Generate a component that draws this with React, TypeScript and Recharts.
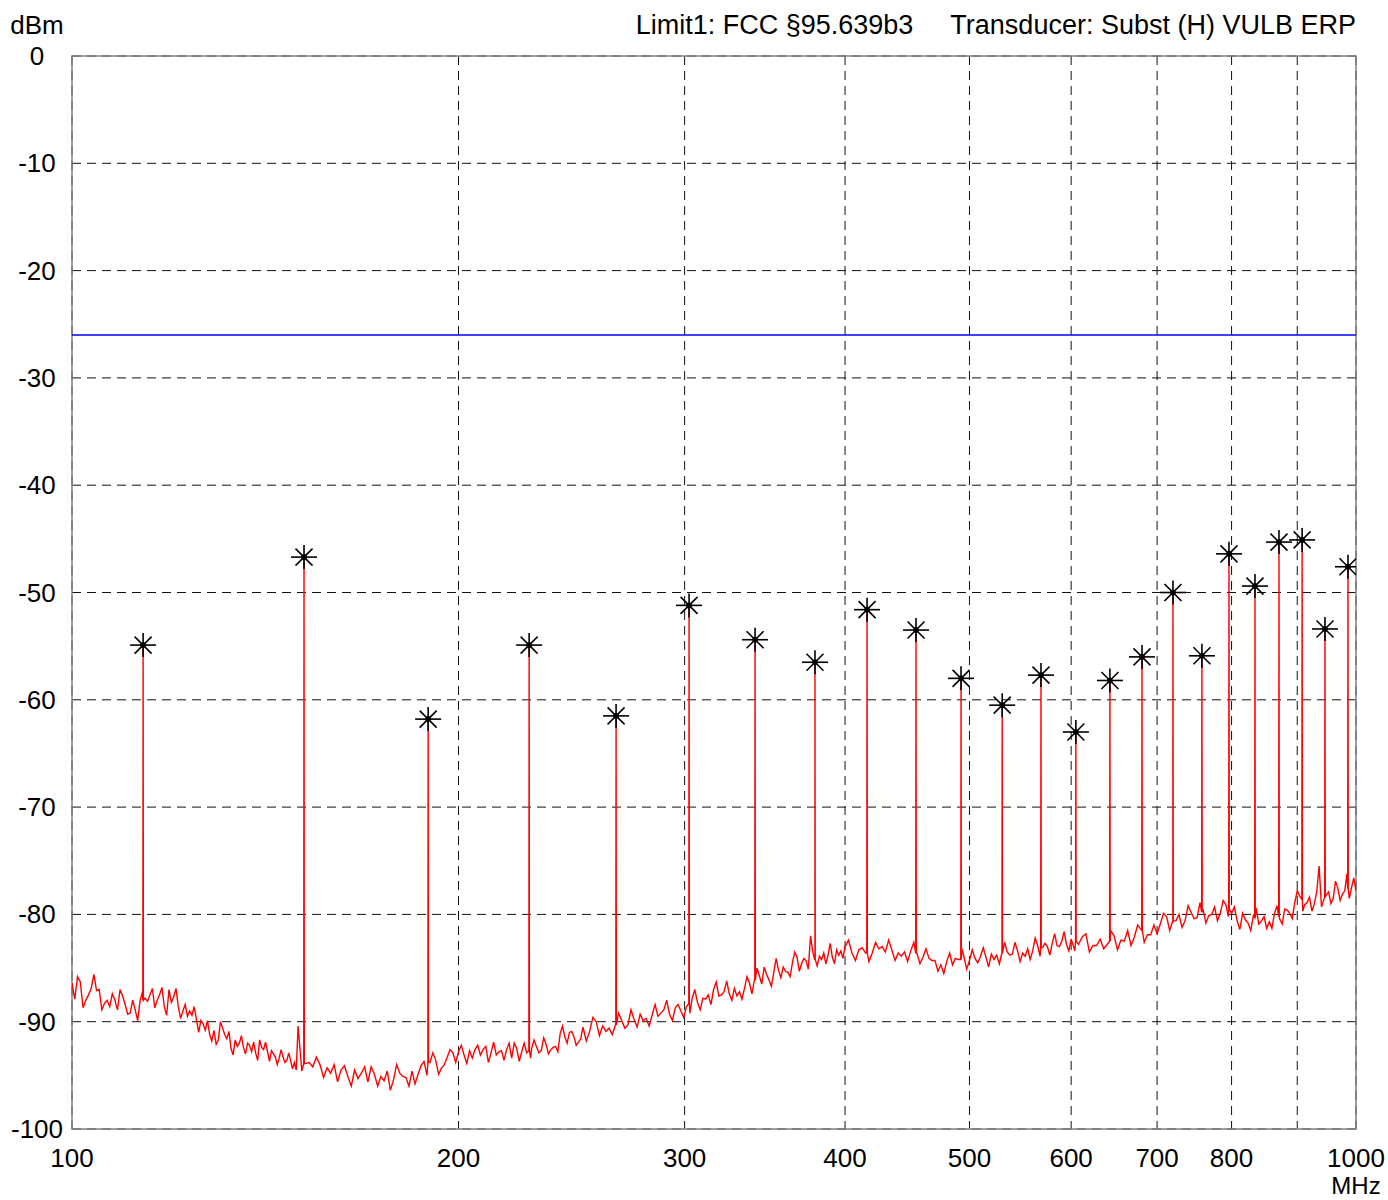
import React from "react";
import {
  ComposedChart,
  Line,
  Scatter,
  XAxis,
  YAxis,
  CartesianGrid,
  ReferenceLine,
  ReferenceArea,
} from "recharts";

// ---------- data ----------
// Noise-floor sweep points (MHz) and levels (dBm)
const FLOOR_F_1 = [
  100, 101, 102, 103, 104, 105, 106, 107, 108, 109, 110, 111, 112, 113, 114, 115, 116, 117, 118, 119,
  120, 121, 122, 123, 124, 125, 126, 127, 128, 129, 130, 131, 132, 133, 134, 135, 136, 137, 138, 139,
  140, 141, 142, 143, 144, 145, 146, 147, 148, 149, 150,
];
const FLOOR_DB_1 = [
  -86.4, -85.8, -88.7, -87.5, -85.6, -87.0, -88.3, -88.6, -88.0, -87.0, -88.4, -89.2, -88.9, -88.0, -87.8, -87.5, -88.7, -87.5, -88.6, -87.0,
  -87.7, -88.6, -89.0, -89.5, -89.4, -89.8, -89.9, -90.8, -91.2, -90.8, -91.7, -90.6, -91.6, -92.5, -91.7, -92.0, -92.4, -92.0, -92.8, -92.9,
  -91.7, -92.6, -92.8, -92.7, -93.3, -93.4, -93.3, -93.6, -93.6, -93.8, -90.4,
];
const FLOOR_F_1B = [
  100.5, 101.5, 102.5, 103.5, 104.5, 105.5, 106.5, 107.5, 108.5, 109.5, 110.5, 111.5, 112.5, 113.5, 114.5, 115.5, 116.5, 117.5, 118.5, 119.5,
  120.5, 121.5, 122.5, 123.5, 124.5, 125.5, 126.5, 127.5, 128.5, 129.5, 130.5, 131.5, 132.5, 133.5, 134.5, 135.5, 136.5, 137.5, 138.5, 139.5,
  140.5, 141.5, 142.5, 143.5, 144.5, 145.5, 146.5, 147.5, 148.5, 149.5,
];
const FLOOR_DB_1B = [
  -87.9, -86.3, -88.0, -86.9, -87.1, -88.9, -88.0, -87.4, -88.9, -87.6, -89.3, -88.0, -89.9, -87.2, -88.1, -86.9, -88.0, -86.8, -89.4, -88.2,
  -86.9, -89.7, -88.4, -89.0, -88.6, -91.0, -90.2, -89.9, -91.8, -92.1, -90.0, -91.2, -90.9, -93.1, -92.3, -91.3, -93.0, -92.2, -91.9, -93.6,
  -92.4, -91.9, -93.7, -93.0, -94.0, -92.6, -93.8, -92.9, -94.4, -94.5,
];
const FLOOR_F_2 = [
  152, 154, 156, 158, 160, 162, 164, 166, 168, 170, 172, 174, 176, 178, 180, 182, 184, 186, 188, 190,
  192, 194, 196, 198, 200, 202, 204, 206, 208, 210, 212, 214, 216, 218, 220, 222, 224, 226, 228, 230,
  232, 234, 236, 238, 240, 242, 244, 246, 248, 250,
];
const FLOOR_DB_2 = [
  -93.9, -94.2, -94.0, -94.3, -94.0, -94.5, -95.1, -94.5, -94.8, -95.6, -94.9, -95.1, -94.6, -95.4, -94.8, -95.2, -94.6, -94.9, -93.7, -93.8,
  -93.6, -94.3, -93.3, -92.9, -92.8, -93.1, -92.7, -92.6, -93.1, -92.3, -92.9, -93.1, -92.7, -92.6, -93.4, -92.5, -92.8, -92.9, -92.5, -92.3,
  -92.7, -92.1, -92.6, -92.3, -91.1, -91.4, -91.0, -91.4, -91.9, -90.5,
];
const FLOOR_F_2B = [
  151, 153, 155, 157, 159, 161, 163, 165, 167, 169, 171, 173, 175, 177, 179, 181, 183, 185, 187, 189,
  191, 193, 195, 197, 199, 201, 203, 205, 207, 209, 211, 213, 215, 217, 219, 221, 223, 225, 227.6, 229,
  231, 233, 235, 237, 239, 241, 243, 245, 247, 249,
];
const FLOOR_DB_2B = [
  -94.6, -93.8, -93.3, -95.2, -94.8, -95.6, -94.1, -96.0, -95.3, -94.2, -94.2, -96.0, -95.5, -96.4, -94.0, -95.1, -96.0, -95.8, -94.1, -95.0,
  -92.9, -94.9, -94.0, -92.6, -93.8, -92.2, -93.9, -93.4, -92.2, -92.6, -93.8, -91.9, -92.8, -93.6, -92.0, -92.0, -93.7, -92.0, -93.4, -91.7,
  -92.9, -91.5, -93.0, -92.4, -92.8, -90.4, -92.0, -90.9, -92.2, -91.6,
];
const FLOOR_F_3 = [
  253, 256, 259, 262, 265, 268, 271, 274, 277, 280, 283, 286, 289, 292, 295, 298, 301, 304, 307, 310,
  313, 316, 319, 322, 325, 328, 331, 334, 337, 340, 343, 346, 349, 352, 355, 358, 361, 364, 367, 370,
  373, 376, 379, 382, 385, 388, 391, 394, 397, 400,
];
const FLOOR_DB_3 = [
  -90.9, -90.0, -90.4, -90.6, -90.3, -89.9, -90.3, -89.8, -89.3, -89.7, -89.4, -89.5, -88.9, -89.3, -88.7, -89.0, -88.6, -87.9, -88.2, -87.8,
  -87.5, -87.0, -87.6, -87.2, -87.4, -86.9, -87.2, -86.9, -86.4, -86.1, -85.7, -84.9, -86.1, -85.4, -85.2, -84.9, -85.4, -84.5, -84.0, -84.6,
  -84.3, -82.0, -84.2, -83.9, -83.6, -83.8, -84.0, -83.3, -83.4, -83.0,
];
const FLOOR_F_3B = [
  251.5, 254.5, 257.5, 260.5, 263.5, 266.5, 269.5, 272.5, 275.5, 278.5, 281.5, 284.5, 287.5, 290.5, 293.5, 296.5, 299.5, 302.9, 305.5, 308.5,
  311.5, 314.5, 317.5, 320.5, 323.5, 326.5, 329.5, 332.5, 335.5, 338.5, 341.5, 344.5, 347.5, 350.5, 353.5, 356.5, 359.5, 362.5, 365.5, 368.5,
  371.5, 374.5, 377.5, 380.5, 383.5, 386.5, 389.5, 392.5, 395.5, 398.5,
];
const FLOOR_DB_3B = [
  -91.8, -89.6, -91.3, -90.9, -91.2, -89.2, -90.6, -88.9, -90.5, -89.9, -90.4, -88.4, -89.2, -88.0, -89.9, -88.4, -89.6, -89.2, -87.0, -88.9,
  -87.9, -88.4, -86.3, -87.5, -86.2, -88.0, -87.6, -87.9, -85.8, -87.4, -85.0, -86.5, -85.6, -86.7, -84.1, -85.9, -85.3, -85.8, -83.5, -85.3,
  -84.1, -85.1, -83.5, -84.8, -84.2, -84.6, -82.7, -84.6, -83.8, -84.1,
];
const FLOOR_F_4 = [
  405, 410, 415, 420, 425, 430, 435, 440, 445, 450, 455, 460, 465, 470, 475, 480, 485, 490, 495, 500,
  505, 510, 515, 520, 525, 530, 535, 540, 545, 550, 555, 560, 565, 570, 575, 580, 585, 590, 595, 600,
];
const FLOOR_DB_4 = [
  -83.6, -83.3, -83.6, -83.6, -83.2, -83.5, -83.3, -83.6, -83.5, -83.4, -83.6, -84.0, -84.1, -84.3, -84.7, -84.4, -84.7, -84.2, -83.9, -84.3,
  -84.1, -83.9, -84.0, -83.7, -83.8, -83.6, -83.5, -83.7, -83.4, -83.6, -83.2, -83.4, -82.9, -83.1, -83.0, -82.7, -82.9, -82.5, -82.8, -82.3,
];
const FLOOR_F_4B = [
  402.5, 407.5, 412.5, 417.5, 422.5, 427.5, 432.5, 437.5, 442.5, 447.5, 452.5, 457.5, 462.5, 467.5, 472.5, 477.5, 482.5, 487.5, 493.2, 497.5,
  502.5, 507.5, 512.5, 517.5, 522.5, 527.5, 532.5, 537.5, 542.5, 547.5, 552.5, 557.5, 562.5, 567.5, 572.5, 577.5, 582.5, 587.5, 592.5, 597.5,
];
const FLOOR_DB_4B = [
  -82.4, -84.3, -83.1, -84.4, -82.6, -83.0, -82.4, -84.3, -83.9, -84.4, -82.6, -84.6, -83.2, -84.3, -85.3, -85.5, -83.6, -84.1, -83.2, -85.1,
  -83.3, -84.5, -83.1, -84.9, -84.2, -84.6, -82.6, -83.8, -82.6, -84.4, -83.9, -84.2, -82.2, -83.9, -82.7, -83.8, -81.8, -83.0, -81.6, -83.4,
];
const FLOOR_F_5 = [
  608, 616, 624, 632, 640, 648, 656, 664, 672, 680, 688, 696, 704, 712, 720, 728, 736, 744, 752, 760,
  768, 776, 784, 792, 800, 808, 816, 824, 832, 840, 848, 856, 864, 872, 880, 888, 896, 904, 912, 920,
  928, 936, 944, 952, 960, 968, 976, 984, 992, 1000,
];
const FLOOR_DB_5 = [
  -82.8, -81.8, -82.9, -82.3, -82.8, -82.0, -82.4, -81.5, -82.1, -81.4, -81.9, -81.0, -80.9, -80.2, -80.8, -80.0, -80.6, -79.8, -80.3, -79.5,
  -80.1, -79.3, -79.9, -79.1, -79.9, -80.6, -79.9, -80.8, -80.1, -80.9, -80.2, -80.7, -79.9, -80.4, -79.5, -79.9, -78.9, -78.3, -79.1, -78.4,
  -79.0, -75.5, -78.6, -77.9, -78.5, -77.6, -78.1, -76.2, -77.5, -77.8,
];
const FLOOR_F_5B = [
  604, 612, 620, 628, 636, 644, 652, 660, 668, 676, 684, 692, 700, 708, 716, 724, 732, 740, 748, 756,
  764, 772, 780, 788, 795.5, 804, 812, 820, 828, 836, 844, 852, 860, 868, 876, 884, 892, 900, 909, 916,
  924, 932, 940, 948, 956, 964, 972, 980, 988, 996,
];
const FLOOR_DB_5B = [
  -83.4, -82.1, -83.5, -82.9, -83.2, -81.5, -83.3, -82.5, -82.9, -81.0, -82.6, -81.9, -81.8, -79.9, -81.5, -80.6, -81.2, -79.2, -80.4, -78.9,
  -80.8, -80.0, -80.6, -78.7, -80.2, -79.3, -81.4, -80.5, -81.5, -79.4, -80.6, -81.3, -81.3, -79.2, -80.9, -79.6, -80.4, -77.8, -79.7, -78.9,
  -79.7, -77.9, -79.3, -78.2, -79.0, -76.9, -78.7, -77.8, -78.5, -76.6,
];

// Marked emission peaks
const PEAK_F = [
  113.6, 151.6, 189.4, 227.0, 265.3, 302.4, 340.4, 379.0, 416.1, 454.3, 492.5, 530.2,
  568.4, 605.1, 643.2, 681.3, 720.2, 758.6, 796.3, 834.3, 871.0, 907.9, 945.9, 985.7,
];
const PEAK_DB = [
  -54.9, -46.7, -61.8, -54.9, -61.5, -51.2, -54.4, -56.5, -51.6, -53.5, -58.0, -60.5,
  -57.7, -63.0, -58.2, -56.0, -50.0, -55.9, -46.4, -49.4, -45.3, -45.1, -53.4, -47.6,
];
const PEAK_BASE = [
  -88.0, -93.9, -93.8, -92.7, -90.3, -88.3, -86.1, -84.2, -83.6, -83.6, -84.2, -83.6,
  -83.1, -82.5, -82.5, -81.5, -80.6, -79.8, -79.5, -80.3, -80.2, -78.6, -78.4, -77.6,
];

const LIMIT_DB = -26;
const X_TICKS = [100, 200, 300, 400, 500, 600, 700, 800, 900, 1000];
const X_TICK_LABELS = ["100", "200", "300", "400", "500", "600", "700", "800", "", "1000"];
const Y_TICKS = [0, -10, -20, -30, -40, -50, -60, -70, -80, -90, -100];
const Y_UNIT = "dBm";
const X_UNIT = "MHz";
const HEADER_LIMIT = "Limit1: FCC §95.639b3";
const HEADER_TRANSDUCER = "Transducer: Subst (H) VULB ERP";

// ---------- derived tables ----------
const FLOOR_F = [
  ...FLOOR_F_1, ...FLOOR_F_1B, ...FLOOR_F_2, ...FLOOR_F_2B, ...FLOOR_F_3, ...FLOOR_F_3B,
  ...FLOOR_F_4, ...FLOOR_F_4B, ...FLOOR_F_5, ...FLOOR_F_5B,
];
const FLOOR_DB = [
  ...FLOOR_DB_1, ...FLOOR_DB_1B, ...FLOOR_DB_2, ...FLOOR_DB_2B, ...FLOOR_DB_3, ...FLOOR_DB_3B,
  ...FLOOR_DB_4, ...FLOOR_DB_4B, ...FLOOR_DB_5, ...FLOOR_DB_5B,
];
const SPIKE_REL_HALF_WIDTH = 0.0005;

const traceData = [
  ...FLOOR_F.map((f, i) => ({ f, db: FLOOR_DB[i] })),
  ...PEAK_F.flatMap((f, i) => [
    { f: f * (1 - SPIKE_REL_HALF_WIDTH), db: PEAK_BASE[i] },
    { f, db: PEAK_DB[i] },
    { f: f * (1 + SPIKE_REL_HALF_WIDTH), db: PEAK_BASE[i] },
  ]),
].sort((a, b) => a.f - b.f);

const peakData = PEAK_F.map((f, i) => ({ f, db: PEAK_DB[i] }));

const FONT = "'Liberation Sans', Arial, Helvetica, sans-serif";
const FONT_SIZE = 26;
const UNIT_FONT_SIZE = 24;
const HEADER_FONT_SIZE = 27;

const Star = (props: any) => {
  const { cx, cy } = props;
  if (cx == null || cy == null) return null;
  const rh = 13;
  const rv = 12;
  const d = 8.5;
  return (
    <g stroke="#000" strokeWidth={1.6}>
      <line x1={cx - rh} y1={cy} x2={cx + rh} y2={cy} />
      <line x1={cx} y1={cy - rv} x2={cx} y2={cy + rv} />
      <line x1={cx - d} y1={cy - d} x2={cx + d} y2={cy + d} />
      <line x1={cx - d} y1={cy + d} x2={cx + d} y2={cy - d} />
      <circle cx={cx} cy={cy} r={2} fill="#000" />
    </g>
  );
};

const XTick = (props: any) => {
  const { x, y, payload } = props;
  const idx = X_TICKS.indexOf(payload.value);
  const label = idx >= 0 ? X_TICK_LABELS[idx] : "";
  return (
    <g>
      <text x={x} y={y + 37.5} textAnchor="middle" fill="#000" fontFamily={FONT} fontSize={FONT_SIZE}>
        {label}
      </text>
      {idx === X_TICKS.length - 1 && (
        <text x={x} y={y + 65} textAnchor="middle" fill="#000" fontFamily={FONT} fontSize={UNIT_FONT_SIZE}>
          {X_UNIT}
        </text>
      )}
    </g>
  );
};

const YTick = (props: any) => {
  const { x, y, payload } = props;
  return (
    <text x={x - 35} y={y + 9} textAnchor="middle" fill="#000" fontFamily={FONT} fontSize={FONT_SIZE}>
      {String(payload.value)}
    </text>
  );
};

export default function App() {
  return (
    <div style={{ position: "absolute", left: 0, top: 0, width: 1388, height: 1200, background: "#fff" }}>
      <div
        style={{
          position: "absolute",
          left: 0,
          width: 74,
          top: 10,
          textAlign: "center",
          fontFamily: FONT,
          fontSize: FONT_SIZE,
          lineHeight: "30px",
          color: "#000",
        }}
      >
        {Y_UNIT}
      </div>
      <div
        style={{
          position: "absolute",
          right: 32,
          top: 10,
          fontFamily: FONT,
          fontSize: HEADER_FONT_SIZE,
          lineHeight: "30px",
          color: "#000",
          whiteSpace: "pre",
        }}
      >
        {HEADER_LIMIT + "     " + HEADER_TRANSDUCER}
      </div>
      <ComposedChart
        width={1388}
        height={1200}
        margin={{ top: 56, right: 32, bottom: 0, left: 0 }}
        style={{ position: "absolute", left: 0, top: 0 }}
      >
        <CartesianGrid stroke="#111" strokeDasharray="9 6" strokeWidth={1} />
        <XAxis
          dataKey="f"
          type="number"
          scale="log"
          domain={[100, 1000]}
          ticks={X_TICKS}
          allowDataOverflow
          height={71}
          axisLine={false}
          tickLine={false}
          tickSize={0}
          tickMargin={0}
          tick={<XTick />}
          interval={0}
        />
        <YAxis
          type="number"
          domain={[-100, 0]}
          ticks={Y_TICKS}
          width={72}
          axisLine={false}
          tickLine={false}
          tickSize={0}
          tickMargin={0}
          tick={<YTick />}
          interval={0}
        />
        <ReferenceArea x1={100} x2={1000} y1={-100} y2={0} fill="none" stroke="#808080" strokeWidth={1.5} />
        <ReferenceLine y={LIMIT_DB} stroke="#0000ff" strokeWidth={1.3} />
        <Line
          data={traceData}
          dataKey="db"
          type="linear"
          stroke="#ff0000"
          strokeWidth={1.4}
          dot={false}
          activeDot={false}
          isAnimationActive={false}
        />
        <Scatter data={peakData} dataKey="db" shape={<Star />} isAnimationActive={false} />
      </ComposedChart>
    </div>
  );
}
